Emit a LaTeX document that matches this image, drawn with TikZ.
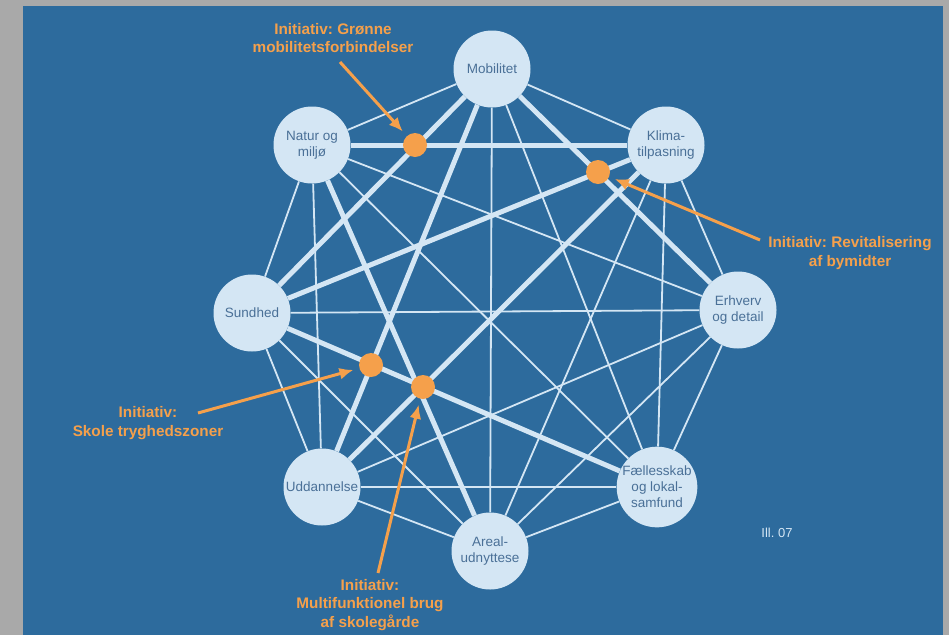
\documentclass[tikz,border=0pt]{standalone}
\usepackage{fontspec}
\setmainfont{Liberation Sans}
\usepackage{tikz}
\usetikzlibrary{arrows.meta, positioning}
\frenchspacing
\definecolor{bggray}{HTML}{A9A9A9}
\definecolor{bgblue}{HTML}{2D6B9D}
\definecolor{lightblue}{HTML}{D4E6F4}
\definecolor{nodetext}{HTML}{4A7097}
\definecolor{initorange}{HTML}{F5A04B}
\tikzset{
    topicnode/.style = {draw=none, fill=lightblue, circle, minimum size=77pt, inner sep=0pt, 
      text=nodetext, font=\fontsize{13.5}{16}\selectfont},
    dotnode/.style = {draw=none, fill=initorange, circle, minimum size=24pt, inner sep=0pt},
    labelnode/.style = {draw=none, fill=none, rectangle, inner sep=0pt, text=initorange, 
      font=\bfseries\fontsize{15.3}{18.5}\selectfont},
    smalltextnode/.style = {draw=none, fill=none, rectangle, inner sep=0pt, text=lightblue, 
      font=\fontsize{13}{15}\selectfont},
    thinlink/.style = {lightblue, line width=1.8pt},
    thicklink/.style = {lightblue, line width=5pt},
    connect/.style = {initorange, line width=3pt, -{Latex[length=14pt,width=12pt]}, shorten >=6pt},
    every text node part/.style={align=center}
}

\begin{document}
\begin{tikzpicture}[x=1pt, y=-1pt]
    \fill [bggray] (0,0) rectangle (949,635);
    \fill [bgblue] (23,6) rectangle (943,635);

    \node [name=mob, topicnode] at (492,69) {Mobilitet};
    \node [name=nat, topicnode] at (312,145) {Natur og\\milj\o};
    \node [name=kli, topicnode] at (666,145) {Klima-\\tilpasning};
    \node [name=sun, topicnode] at (252,313) {Sundhed};
    \node [name=erh, topicnode] at (738,310) {Erhverv\\og detail};
    \node [name=udd, topicnode] at (322,487) {Uddannelse};
    \node [name=are, topicnode] at (490,551) {Areal-\\udnyttese};
    \node [name=fae, topicnode] at (657,487) {F\ae llesskab\\og lokal-\\samfund};

    % strong links
    \draw (nat) edge[thicklink] (kli);
    \draw (mob) edge[thicklink] (sun);
    \draw (mob) edge[thicklink] (erh);
    \draw (mob) edge[thicklink] (udd);
    \draw (sun) edge[thicklink] (kli);
    \draw (kli) edge[thicklink] (udd);
    \draw (nat) edge[thicklink] (are);
    \draw (sun) edge[thicklink] (fae);

    % other links
    \draw (mob) edge[thinlink] (nat);
    \draw (mob) edge[thinlink] (kli);
    \draw (mob) edge[thinlink] (are);
    \draw (mob) edge[thinlink] (fae);
    \draw (nat) edge[thinlink] (sun);
    \draw (nat) edge[thinlink] (erh);
    \draw (nat) edge[thinlink] (udd);
    \draw (nat) edge[thinlink] (fae);
    \draw (kli) edge[thinlink] (erh);
    \draw (kli) edge[thinlink] (are);
    \draw (kli) edge[thinlink] (fae);
    \draw (sun) edge[thinlink] (erh);
    \draw (sun) edge[thinlink] (udd);
    \draw (sun) edge[thinlink] (are);
    \draw (erh) edge[thinlink] (udd);
    \draw (erh) edge[thinlink] (are);
    \draw (erh) edge[thinlink] (fae);
    \draw (udd) edge[thinlink] (are);
    \draw (udd) edge[thinlink] (fae);
    \draw (are) edge[thinlink] (fae);

    \node [name=dot1, dotnode] at (415,145) {};
    \node [name=dot2, dotnode] at (598,172) {};
    \node [name=dot3, dotnode] at (371,365) {};
    \node [name=dot4, dotnode] at (423,387) {};

    \node [name=lblgr, labelnode] at (333,38) {Initiativ: Gr\o nne\\mobilitetsforbindelser};
    \node [name=lblrev, labelnode] at (850,253) {Initiativ: Revitalisering\\af bymidter};
    \node [name=lblsko, labelnode] at (148,423) {Initiativ:\\Skole tryghedszoner};
    \node [name=lblmul, labelnode] at (370,605) {Initiativ:\\Multifunktionel brug\\af skoleg\aa rde};
    \node [name=ill, smalltextnode] at (777,533) {Ill. 07};

    \coordinate (a1) at (340,62);
    \coordinate (a2) at (760,240);
    \coordinate (a3) at (198,413);
    \coordinate (a4) at (378,573);

    \draw [connect] (a1) -- (dot1);
    \draw [connect] (a2) -- (dot2);
    \draw [connect] (a3) -- (dot3);
    \draw [connect] (a4) -- (dot4);
\end{tikzpicture}
\end{document}
